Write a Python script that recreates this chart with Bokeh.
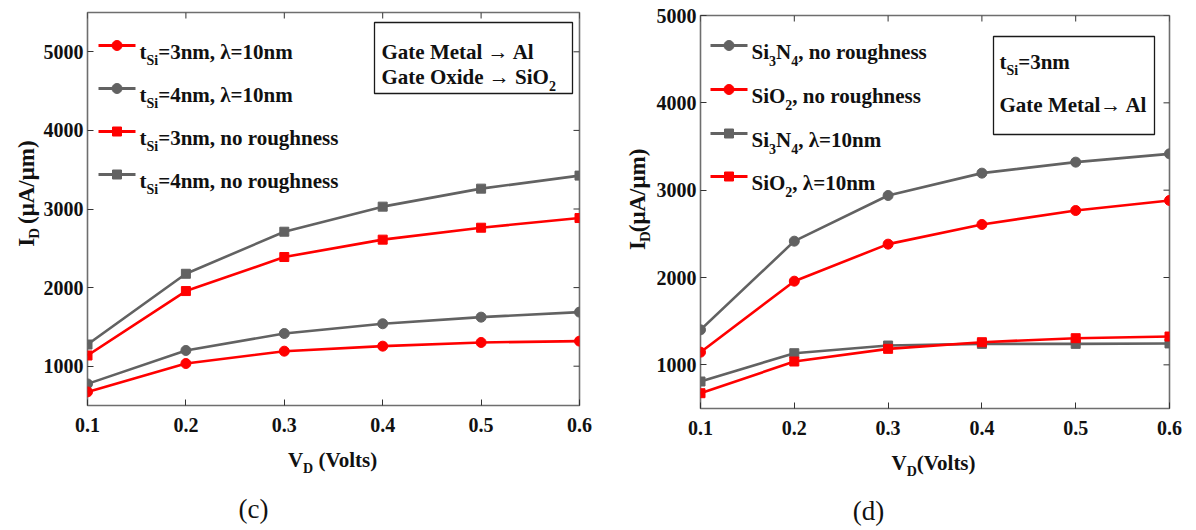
import math
from bokeh.plotting import figure
from bokeh.layouts import row, column
from bokeh.models import Label, FixedTicker, BoxAnnotation, Range1d
from bokeh.embed import file_html
from bokeh.resources import INLINE

# ---------------- data ----------------
vd = [0.1, 0.2, 0.3, 0.4, 0.5, 0.6]

# panel (c): Gate Metal Al, Gate Oxide SiO2
c_tsi3_lam10 = [673, 1034, 1191, 1255, 1302, 1319]
c_tsi4_lam10 = [775, 1200, 1416, 1540, 1624, 1688]
c_tsi3_norough = [1136, 1956, 2389, 2610, 2762, 2885]
c_tsi4_norough = [1276, 2176, 2711, 3030, 3259, 3425]

# panel (d): tSi = 3 nm, Gate Metal Al
d_si3n4_norough = [1401, 2416, 2939, 3195, 3321, 3416]
d_sio2_norough = [1145, 1958, 2382, 2607, 2767, 2882]
d_si3n4_lam10 = [809, 1133, 1221, 1240, 1240, 1245]
d_sio2_lam10 = [675, 1038, 1183, 1259, 1305, 1324]

x_ticks = [0.1, 0.2, 0.3, 0.4, 0.5, 0.6]
y_ticks = [1000, 2000, 3000, 4000, 5000]

RED = "#ff0000"
GRAY = "#626262"
FONT = "Liberation Serif"
TXT = "#111111"
MAIN = 21
SUB = 14

BOLD_W = {' ': .25, '(': .333, ')': .333, ',': .25, '.': .25, '/': .278, '=': .57,
          'A': .722, 'D': .722, 'G': .778, 'I': .389, 'M': .944, 'N': .722, 'O': .778,
          'S': .556, 'V': .722, 'a': .5, 'c': .444, 'd': .556, 'e': .444, 'g': .5,
          'h': .556, 'i': .278, 'l': .278, 'm': .833, 'n': .556, 'o': .5, 'r': .444,
          's': .389, 't': .333, 'u': .556, 'x': .5, 'λ': .55, 'μ': .556, '→': 1.0}
for d in "0123456789":
    BOLD_W[d] = .5


def text_width(s, size):
    return sum(BOLD_W.get(ch, .5) for ch in s) * size


class Base:
    """Shared text helpers; subclasses provide x(px), y(py) in data coordinates."""

    def label(self, text, px, py, size, bold=True, angle=0.0, align="left",
              baseline="alphabetic"):
        self.p.add_layout(Label(x=self.x(px), y=self.y(py), text=text, angle=angle,
                                text_font=FONT,
                                text_font_style="bold" if bold else "normal",
                                text_font_size=f"{size}px", text_color=TXT,
                                text_align=align, text_baseline=baseline))

    def runs(self, runs, x_px, base_px, angle=0.0, align="left"):
        total = sum(text_width(t, s) for t, s, _ in runs)
        if angle == 0.0:
            cur = x_px - total / 2 if align == "center" else x_px
            for t, s, sh in runs:
                lead = text_width(t[:len(t) - len(t.lstrip(' '))], s)
                self.label(t.lstrip(' '), cur + lead, base_px + sh, s)
                cur += text_width(t, s)
        else:
            cur = base_px + total / 2 if align == "center" else base_px
            for t, s, sh in runs:
                lead = text_width(t[:len(t) - len(t.lstrip(' '))], s)
                self.label(t.lstrip(' '), x_px + sh, cur - lead, s, angle=angle)
                cur -= text_width(t, s)


class TextFig(Base):
    """A blank figure whose frame fills it; data units equal panel pixels."""

    def __init__(self, ox, oy, w, h):
        p = figure(width=w, height=h, min_border=0,
                   x_range=Range1d(ox, ox + w), y_range=Range1d(oy + h, oy),
                   x_axis_location=None, y_axis_location=None,
                   output_backend="svg", toolbar_location=None)
        p.grid.visible = False
        p.outline_line_color = None
        p.background_fill_color = "white"
        p.border_fill_color = "white"
        self.p = p

    def x(self, px):
        return px

    def y(self, py):
        return py


class Chart(Base):
    def __init__(self, ox, fl, ft, fw, fh, fr, fb, xr, yr):
        # ox: panel x of this figure's left edge; fl/ft: frame left/top in panel px
        self.fl, self.ft, self.fw, self.fh = fl, ft, fw, fh
        self.xr, self.yr = xr, yr
        p = figure(frame_width=fw, frame_height=fh,
                   min_border_left=fl - ox, min_border_top=ft,
                   min_border_right=fr, min_border_bottom=fb,
                   x_range=Range1d(*xr), y_range=Range1d(*yr),
                   output_backend="svg", toolbar_location=None)
        p.grid.visible = False
        p.outline_line_color = "#6e6e6e"
        p.outline_line_width = 1.6
        p.background_fill_color = "white"
        p.border_fill_color = "white"
        p.xaxis.ticker = FixedTicker(ticks=x_ticks)
        p.yaxis.ticker = FixedTicker(ticks=y_ticks)
        for ax in list(p.xaxis) + list(p.yaxis):
            ax.axis_line_color = None
            ax.major_tick_in = 6
            ax.major_tick_out = 0
            ax.major_tick_line_color = "#333333"
            ax.major_tick_line_width = 1
            ax.minor_tick_line_color = None
            ax.major_label_text_font = FONT
            ax.major_label_text_font_style = "bold"
            ax.major_label_text_font_size = "20px"
            ax.major_label_text_color = TXT
        p.xaxis.major_label_standoff = 12
        p.yaxis.major_label_standoff = 4
        self.p = p
        # mirrored inward ticks on the right and top edges of the box
        dx = 6 / fw * (xr[1] - xr[0])
        dy = 6 / fh * (yr[1] - yr[0])
        p.segment(x0=[xr[1]] * len(y_ticks), y0=y_ticks,
                  x1=[xr[1] - dx] * len(y_ticks), y1=y_ticks,
                  line_color="#333333", line_width=1)
        p.segment(x0=x_ticks, y0=[yr[1]] * len(x_ticks),
                  x1=x_ticks, y1=[yr[1] - dy] * len(x_ticks),
                  line_color="#333333", line_width=1)

    def x(self, px):
        return self.xr[0] + (px - self.fl) / self.fw * (self.xr[1] - self.xr[0])

    def y(self, py):
        return self.yr[0] + (self.ft + self.fh - py) / self.fh * (self.yr[1] - self.yr[0])

    def series(self, vals, color, marker, size):
        self.p.line(vd, vals, line_color=color, line_width=2.6)
        self.p.scatter(vd, vals, marker=marker, size=size, fill_color=color,
                       line_color=color)

    def legend_entry(self, row_y, x0, x1, color, marker, size, runs):
        self.p.line([self.x(x0), self.x(x1)], [self.y(row_y), self.y(row_y)],
                    line_color=color, line_width=3)
        self.p.scatter([self.x((x0 + x1) / 2)], [self.y(row_y)], marker=marker,
                       size=size, fill_color=color, line_color=color)
        self.runs(runs, x1 + 4, row_y + 6)

    def box(self, l, t, r, b):
        self.p.add_layout(BoxAnnotation(left=self.x(l), right=self.x(r),
                                        top=self.y(t), bottom=self.y(b),
                                        fill_alpha=0, line_color="#1a1a1a",
                                        line_alpha=1.0, line_width=1.3))


PW, PH, TOPH = 598, 530, 440

# ---------------- panel (c) ----------------
YL_W_C = 40
L = Chart(YL_W_C, 87, 12, 492, 393, 19, TOPH - 405, (0.1, 0.6), (500, 5500))
L.series(c_tsi4_norough, GRAY, "square", 9)
L.series(c_tsi3_norough, RED, "square", 9)
L.series(c_tsi4_lam10, GRAY, "circle", 10)
L.series(c_tsi3_lam10, RED, "circle", 10)

rows_c = [45, 88, 131, 174]
L.legend_entry(rows_c[0], 98, 135, RED, "circle", 10,
               [("t", MAIN, 0), ("Si", SUB, 9), ("=3nm, λ=10nm", MAIN, 0)])
L.legend_entry(rows_c[1], 98, 135, GRAY, "circle", 10,
               [("t", MAIN, 0), ("Si", SUB, 9), ("=4nm, λ=10nm", MAIN, 0)])
L.legend_entry(rows_c[2], 98, 135, RED, "square", 9,
               [("t", MAIN, 0), ("Si", SUB, 9), ("=3nm, no roughness", MAIN, 0)])
L.legend_entry(rows_c[3], 98, 135, GRAY, "square", 9,
               [("t", MAIN, 0), ("Si", SUB, 9), ("=4nm, no roughness", MAIN, 0)])

L.box(374, 22, 572, 93)
L.runs([("Gate Metal → Al", MAIN, 0)], 381, 51)
L.runs([("Gate Oxide → SiO", MAIN, 0), ("2", SUB, 9)], 381, 76)

yl_c = TextFig(0, 0, YL_W_C, TOPH)
yl_c.runs([("I", 23, 0), ("D", 15, 7), (" (μA/μm)", 23, 0)], 26, 208,
          angle=math.pi / 2, align="center")
bot_c = TextFig(0, TOPH, PW, PH - TOPH)
bot_c.runs([("V", MAIN, 0), ("D", SUB, 9), (" (Volts)", MAIN, 0)], 333, 459,
           align="center")
bot_c.label("(c)", 253, 508, 27, bold=False, align="center", baseline="middle")

# ---------------- panel (d) ----------------
YL_W_D = 55
R = Chart(YL_W_D, 102, 15, 469, 393, 27, TOPH - 408, (0.1, 0.6), (500, 5000))
R.series(d_si3n4_norough, GRAY, "circle", 10)
R.series(d_sio2_norough, RED, "circle", 10)
R.series(d_si3n4_lam10, GRAY, "square", 9)
R.series(d_sio2_lam10, RED, "square", 9)

rows_d = [45, 89, 133, 176]
R.legend_entry(rows_d[0], 112, 149, GRAY, "circle", 10,
               [("Si", MAIN, 0), ("3", SUB, 9), ("N", MAIN, 0), ("4", SUB, 9),
                (", no roughness", MAIN, 0)])
R.legend_entry(rows_d[1], 112, 149, RED, "circle", 10,
               [("SiO", MAIN, 0), ("2", SUB, 9), (", no roughness", MAIN, 0)])
R.legend_entry(rows_d[2], 112, 149, GRAY, "square", 9,
               [("Si", MAIN, 0), ("3", SUB, 9), ("N", MAIN, 0), ("4", SUB, 9),
                (", λ=10nm", MAIN, 0)])
R.legend_entry(rows_d[3], 112, 149, RED, "square", 9,
               [("SiO", MAIN, 0), ("2", SUB, 9), (", λ=10nm", MAIN, 0)])

R.box(395, 36, 556, 134)
R.runs([("t", MAIN, 0), ("Si", SUB, 9), ("=3nm", MAIN, 0)], 401, 61)
R.runs([("Gate Metal→ Al", MAIN, 0)], 401, 104)

yl_d = TextFig(0, 0, YL_W_D, TOPH)
yl_d.runs([("I", 23, 0), ("D", 15, 7), ("(μA/μm)", 23, 0)], 39, 211,
          angle=math.pi / 2, align="center")
bot_d = TextFig(0, TOPH, PW, PH - TOPH)
bot_d.runs([("V", MAIN, 0), ("D", SUB, 9), ("(Volts)", MAIN, 0)], 336, 462,
           align="center")
bot_d.label("(d)", 270, 510, 27, bold=False, align="center", baseline="middle")

layout = row(column(row(yl_c.p, L.p), bot_c.p), column(row(yl_d.p, R.p), bot_d.p))
open("out.html", "w").write(file_html(layout, INLINE))
